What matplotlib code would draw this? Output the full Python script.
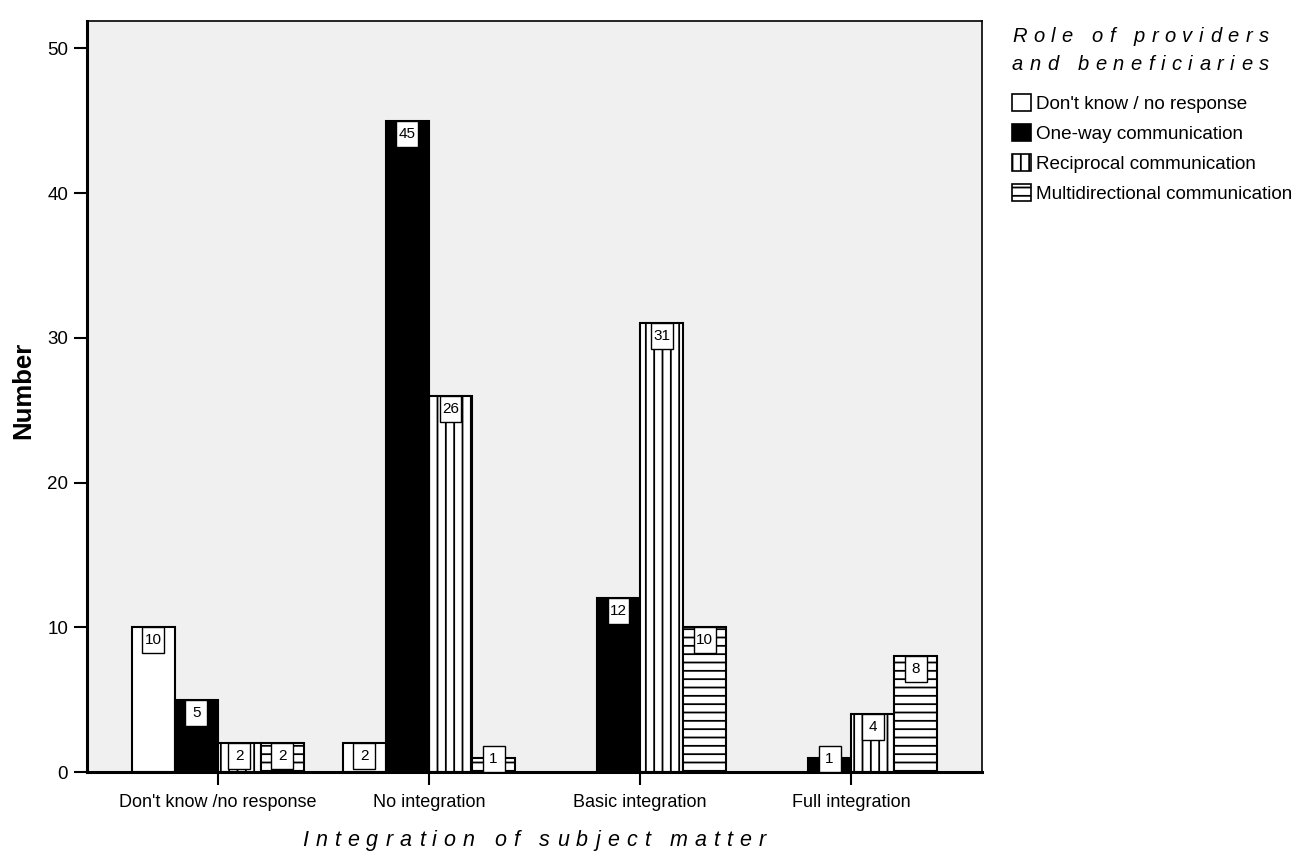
import matplotlib
matplotlib.use('Agg')
import matplotlib.pyplot as plt
from matplotlib.patches import Patch, Rectangle
from matplotlib.font_manager import FontProperties
import numpy as np

# data
categories = ["Don't know /no response", "No integration",
              "Basic integration", "Full integration"]
series_names = ["Don't know / no response", "One-way communication",
                "Reciprocal communication", "Multidirectional communication"]
dont_know  = [10, 2, 0, 0]
one_way    = [5, 45, 12, 1]
reciprocal = [2, 26, 31, 4]
multi      = [2, 1, 10, 8]

series = [dont_know, one_way, reciprocal, multi]
faces = ['white', 'black', 'white', 'white']
hatches = [None, None, '||', '--']

W, H = 1298, 863
plt.rcParams['font.family'] = ['Liberation Sans', 'DejaVu Sans']
plt.rcParams['hatch.linewidth'] = 1.3

fig = plt.figure(figsize=(W / 100, H / 100), dpi=100)
ax = fig.add_axes([87 / W, 91 / H, 895 / W, 751 / H])
ax.set_facecolor('#f0f0f0')

bw = 0.204
x = np.arange(len(categories))
box_w, box_h = 0.104, 1.8

for i, (vals, fc, hh) in enumerate(zip(series, faces, hatches)):
    xs = x + (i - 1.5) * bw
    for xc, v in zip(xs, vals):
        if v == 0:
            continue
        ax.bar(xc, v, width=bw, color=fc, edgecolor='black', hatch=hh,
               linewidth=1.5, zorder=2)
        top = max(v, box_h)
        ax.add_patch(Rectangle((xc - box_w / 2, top - box_h), box_w, box_h,
                               facecolor='white', edgecolor='black',
                               linewidth=1.0, zorder=3))
        ax.text(xc, top - box_h / 2, str(v), ha='center', va='center',
                fontsize=11, zorder=4)

ax.set_xlim(-0.62, 3.62)
ax.set_ylim(0, 51.9)
ax.set_xticks(x)
ax.set_xticklabels(categories, fontsize=13)
ax.set_yticks(range(0, 51, 10))
ax.tick_params(axis='both', labelsize=13.5, length=9.5, width=1.5,
               direction='out')
ax.tick_params(axis='x', labelsize=13, pad=6)
ax.tick_params(axis='y', pad=4)
for side in ['left', 'bottom']:
    ax.spines[side].set_linewidth(2.2)
for side in ['top', 'right']:
    ax.spines[side].set_linewidth(1.2)

fig.text(23 / W, 1 - 390 / H, 'Number', rotation=90, ha='center',
         va='center', fontsize=18.5, fontweight='bold')

# letter-spaced italic titles, drawn glyph by glyph
fig.canvas.draw()
renderer = fig.canvas.get_renderer()


def text_w(s, fp):
    w, h, d = renderer.get_text_width_height_descent(s, fp, ismath=False)
    return w


def spaced(x0, y0, s, size, track, align='left'):
    fp = FontProperties(family='Liberation Sans', style='italic', size=size)
    ref = text_w('|', fp)
    pos = [text_w(s[:k] + '|', fp) - ref if k else 0.0 for k in range(len(s))]
    total = text_w(s, fp) + track * (len(s) - 1)
    if align == 'center':
        x0 = x0 - total / 2
    for k, ch in enumerate(s):
        if ch == ' ':
            continue
        fig.text((x0 + pos[k] + k * track) / W, 1 - y0 / H, ch,
                 fontproperties=fp, ha='left', va='baseline')


spaced(534, 846, 'Integration of subject matter', 15.5, 7, align='center')
spaced(1012, 42, 'Role of providers', 14.5, 6.5)
spaced(1012, 70, 'and beneficiaries', 14.5, 6.5)

handles = [Patch(facecolor=fc, edgecolor='black', hatch=hh, linewidth=1.2)
           for fc, hh in zip(faces, hatches)]
fig.legend(handles, series_names, loc='upper left',
           bbox_to_anchor=(1012 / W, 1 - 94 / H), frameon=False,
           fontsize=13.6, handlelength=1.0, handleheight=1.0,
           handletextpad=0.25, labelspacing=0.58, borderpad=0,
           borderaxespad=0)

fig.savefig('out.png', dpi=100)
